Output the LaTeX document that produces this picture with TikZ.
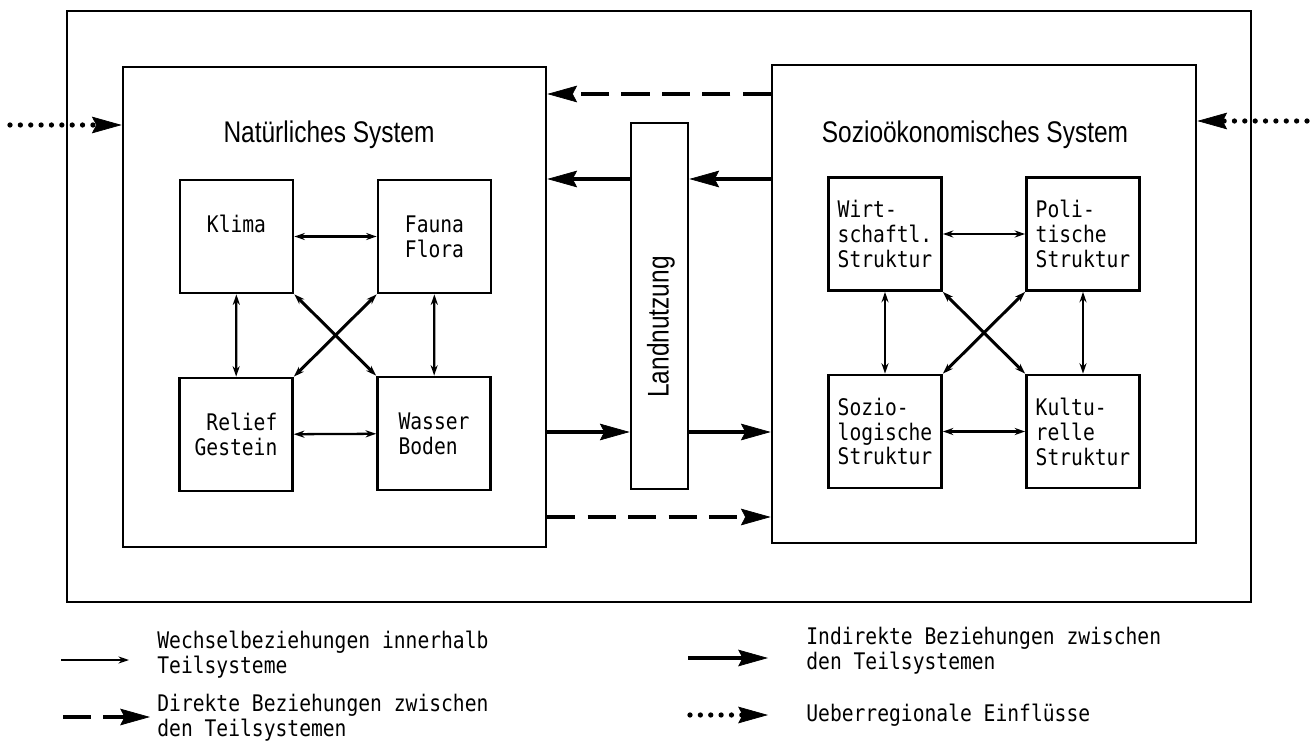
\documentclass[tikz,border=0pt]{standalone}
\usepackage{fontspec}
\newfontfamily\schreibfont[FakeStretch=0.86]{DejaVu Sans Mono}
\newfontfamily\condfont[FakeStretch=0.82]{Liberation Sans}
\usetikzlibrary{arrows.meta}

\begin{document}
\begin{tikzpicture}[x=0.02cm, y=-0.02cm,
    box/.style={draw, line width=1.4pt, inner sep=0pt},
    elem/.style={draw, line width=1.5pt, minimum width=2.26cm, minimum height=2.26cm, inner sep=0pt, align=left, font=\schreibfont\fontsize{13}{14.2}\selectfont},
    titel/.style={font=\condfont\fontsize{17}{18}\selectfont, inner sep=0pt},
    legende/.style={anchor=west, inner sep=0pt, align=left, font=\schreibfont\fontsize{13}{14.4}\selectfont},
    wb/.style={line width=1.3pt, {Stealth[length=6pt,width=4pt]}-{Stealth[length=6pt,width=4pt]}},
    ind/.style={line width=2.5pt, -{Stealth[length=17pt,width=9.5pt,inset=2.5pt,line width=0.4pt]}},
    dir/.style={ind, dash pattern=on 16pt off 7pt},
    ueb/.style={line width=3pt, line cap=round, dash pattern=on 0pt off 5.9pt, -{Stealth[length=17pt,width=9.5pt,inset=2.5pt,line width=0.4pt]}}]
    \useasboundingbox (0,0) rectangle (1311,743);

    % region frame and the two systems
    \node[box, minimum width=23.68cm, minimum height=11.82cm] at (659,306.5) (region) {};
    \node[box, line width=1.5pt, minimum width=8.46cm, minimum height=9.6cm] at (334.5,307) (nat) {};
    \node[box, line width=1.5pt, minimum width=8.48cm, minimum height=9.56cm] at (984,304) (soz) {};
    \node[box, line width=1.5pt, minimum width=1.14cm, minimum height=7.32cm] at (659.5,306) (land) {};
    \node[titel, rotate=90] at (661,327) (landtxt) {Landnutzung};

    \node[titel, anchor=base] at (329,143) (nattitel) {Natürliches System};
    \node[titel, anchor=base] at (975,143) (soztitel) {Sozioökonomisches System};

    % natural system
    \node[elem] at (236.5,236.5) (klima) {Klima\\\mbox{}};
    \node[elem] at (434.5,236.5) (fauna) {Fauna\\Flora};
    \node[elem, align=right] at (236,434.5) (relief) {Relief\\Gestein};
    \node[elem] at (434,433.5) (wasser) {Wasser\\Boden};

    \draw[wb] (klima) -- (fauna);
    \draw[wb] (relief) -- (wasser);
    \draw[wb] (klima) -- (relief);
    \draw[wb] (fauna) -- (wasser);
    \draw[wb, line width=1.7pt] (klima.south east) -- (wasser.north west);
    \draw[wb, line width=1.7pt] (fauna.south west) -- (relief.north east);

    % socio-economic system
    \node[elem] at (885,234) (wirt) {Wirt-\\schaftl.\\Struktur};
    \node[elem] at (1083,234) (poli) {Poli-\\tische\\Struktur};
    \node[elem] at (885,431.5) (sozio) {Sozio-\\logische\\Struktur};
    \node[elem] at (1083,431.5) (kultur) {Kultu-\\relle\\Struktur};

    \draw[wb] (wirt) -- (poli);
    \draw[wb] (sozio) -- (kultur);
    \draw[wb] (wirt) -- (sozio);
    \draw[wb] (poli) -- (kultur);
    \draw[wb, line width=1.7pt] (wirt.south east) -- (kultur.north west);
    \draw[wb, line width=1.7pt] (poli.south west) -- (sozio.north east);

    % relations between the systems
    \coordinate (ytop) at (0,94);
    \coordinate (yind1) at (0,179);
    \coordinate (yind2) at (0,432);
    \coordinate (ybot) at (0,517);
    \coordinate (ulinks) at (10,125);
    \coordinate (urechts) at (1307,121);

    \draw[dir] (soz.west |- ytop) -- (nat.east |- ytop);
    \draw[ind] (soz.west |- yind1) -- (land.east |- yind1);
    \draw[ind] (land.west |- yind1) -- (nat.east |- yind1);
    \draw[ind] (nat.east |- yind2) -- (land.west |- yind2);
    \draw[ind] (land.east |- yind2) -- (soz.west |- yind2);
    \draw[dir] (nat.east |- ybot) -- (soz.west |- ybot);
    \draw[ueb] (ulinks) -- (nat.west |- ulinks);
    \draw[ueb] (urechts) -- (soz.east |- urechts);

    % legend
    \coordinate (l1a) at (61,660);
    \coordinate (l1b) at (129,660);
    \draw[line width=1.3pt, -{Stealth[length=6pt,width=4pt]}] (l1a) -- (l1b);
    \node[legende] at (157,654.5) (leg1) {Wechselbeziehungen innerhalb\\Teilsysteme};

    \coordinate (l2a) at (63,717);
    \coordinate (l2b) at (150,717);
    \draw[dir] (l2a) -- (l2b);
    \node[legende] at (157,717.5) (leg2) {Direkte Beziehungen zwischen\\den Teilsystemen};

    \coordinate (l3a) at (688,658);
    \coordinate (l3b) at (768,658);
    \draw[ind] (l3a) -- (l3b);
    \node[legende] at (806,651) (leg3) {Indirekte Beziehungen zwischen\\den Teilsystemen};

    \coordinate (l4a) at (690,715);
    \coordinate (l4b) at (768,715);
    \draw[ueb] (l4a) -- (l4b);
    \node[legende] at (806,715) (leg4) {Ueberregionale Einflüsse};
\end{tikzpicture}
\end{document}
